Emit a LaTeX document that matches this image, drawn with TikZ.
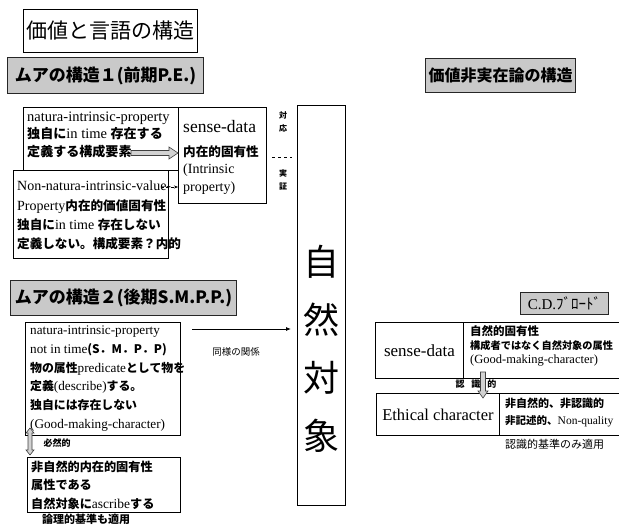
\documentclass[tikz,border=0pt]{standalone}
\usepackage{fontspec}
\setmainfont{Liberation Serif}
\newfontfamily\jpfont{Noto Sans CJK JP}
\newfontfamily\jpsm{Noto Sans CJK JP}[Scale=0.9]
\usetikzlibrary{arrows.meta}
\newcommand\jb[1]{{\jpsm\bfseries #1}}
\newcommand\jr[1]{{\jpfont #1}}
\newcommand\fsz[2]{\fontsize{#1}{#2}\selectfont}
\begin{document}
\begin{tikzpicture}[x=1pt,y=-1pt,
  frame/.style={draw, line width=0.9pt, fill=white, inner sep=0pt, anchor=north west},
  head/.style={draw=black!85, line width=1.1pt, fill=gray!42, inner sep=0pt, anchor=north west},
  txt/.style={inner sep=0pt, anchor=north west, align=left},
  grayarrow/.style={draw=gray!50!black, fill=gray!35, line width=0.6pt, line join=miter},
]
\useasboundingbox (0,0) rectangle (619,530);

% titles
\node[frame, minimum width=174pt, minimum height=43pt, font=\jpfont\fsz{21}{24}] (title) at (23,9) {価値と言語の構造};
\node[head, minimum width=196pt, minimum height=36pt, font=\jpfont\bfseries\fsz{17}{20}] (h1) at (7,57) {ムアの構造１(前期P.E.)};
\node[head, minimum width=150pt, minimum height=34pt, font=\jpfont\bfseries\fsz{16}{20}] (h3) at (425,58) {価値非実在論の構造};

% box A
\node[frame, minimum width=155pt, minimum height=63pt] (bA) at (23,107) {};
\node[txt, font=\fsz{14.5}{17.5}] (tA) at (27,111.5) {natura-intrinsic-property\\\jb{独自に}in time \jb{存在する}\\\jb{定義する構成要素}};
% sense-data (left)
\node[frame, minimum width=88pt, minimum height=96pt] (sd) at (178,107) {};
\node[txt, font=\fsz{17.5}{20}] (sdt) at (183,120) {sense-data};
\node[txt, font=\fsz{14}{17.5}] (sdt2) at (183,145.5) {\jb{内在的固有性}\\(Intrinsic\\property)};
% box B
\node[frame, minimum width=155pt, minimum height=88pt] (bB) at (13,170) {};
\node[txt, font=\fsz{14}{19.3}] (tB) at (17,181) {Non-natura-intrinsic-value-\\Property\jb{内在的価値固有性}\\\jb{独自に}in time \jb{存在しない}\\\jb{定義しない。構成要素？内的}};

% arrows into sense-data
\coordinate (gaS) at (131,153);
\draw[grayarrow] (131,150.5) -- (169,150.5) -- (169,147) -- (sd.west |- gaS) -- (169,159) -- (169,155.5) -- (131,155.5) -- cycle;
\coordinate (bBo) at (161,187);
\draw[densely dashed, -{Stealth[length=4pt,width=3pt]}] (bBo) -- (sd.west |- bBo);

% small vertical labels
\node[font=\jpfont\bfseries\fsz{8}{13}, align=center, inner sep=0pt] (lab1) at (283,122) {対\\応};
\coordinate (dl1) at (272,157);
\coordinate (dl2) at (292,157);
\draw[dashed] (dl1) -- (dl2);
\node[font=\jpfont\bfseries\fsz{8}{13}, align=center, inner sep=0pt] (lab2) at (283,180) {実\\証};

% natural object
\node[frame, minimum width=48pt, minimum height=400pt] (nat) at (297,105) {};
\node[font=\jpfont\fsz{36}{58}, align=center, inner sep=0pt] (natt) at (321,349) {自\\然\\対\\象};

% heading 2
\node[head, minimum width=226pt, minimum height=35pt, font=\jpfont\bfseries\fsz{17}{20}] (h2) at (10,280) {ムアの構造２(後期S.M.P.P.)};

% box C
\node[frame, minimum width=155pt, minimum height=113pt] (bC) at (25,322) {};
\node[txt, font=\fsz{13.2}{18.8}] (tC) at (30,325.5) {natura-intrinsic-property\\not in time\jb{(S．M．P．P)}\\\jb{物の属性}predicate\jb{として物を}\\\jb{定義}(describe)\jb{する。}\\\jb{独自には存在しない}\\(Good-making-character)};

\coordinate (aS) at (192,329);
\draw[line width=0.8pt, -{Latex[length=5pt,width=4pt]}, shorten >=6pt] (aS) -- (nat.west |- aS);
\node[font=\jpfont\fsz{9.5}{12}] (same) at (236,352) {同様の関係};

% necessity double arrow
\coordinate (daT) at (30,428);
\coordinate (daB) at (30,455);
\draw[grayarrow] (daT) -- (34,433) -- (32,433) -- (32,450) -- (34,450) -- (daB) -- (26,450) -- (28,450) -- (28,433) -- (26,433) -- cycle;
\node[font=\jpfont\bfseries\fsz{9}{10}] (nec) at (57,443) {必然的};

% box D
\node[frame, minimum width=153pt, minimum height=55pt] (bD) at (27,457) {};
\node[txt, font=\fsz{13.5}{18.6}] (tD) at (31,460.5) {\jb{非自然的内在的固有性}\\\jb{属性である}\\\jb{自然対象に}ascribe\jb{する}};
\node[font=\jpfont\bfseries\fsz{11}{12}, inner sep=0pt] (logi) at (86,519) {論理的基準も適用};

% right side
\node[head, minimum width=88pt, minimum height=22pt, font=\fsz{15}{16}] (cd) at (520,292) {C.D.\jr{ﾌﾞﾛｰﾄﾞ}};
\node[frame, minimum width=88pt, minimum height=56pt, font=\fsz{17}{20}] (sd2) at (375,322) {sense-data};
\node[frame, minimum width=170pt, minimum height=56pt] (sd2r) at (463,322) {};
\node[txt, font=\fsz{12.5}{14}] (tsd2) at (470,325) {{\jpfont\bfseries\fsz{11.5}{14}自然的固有性}\\{\jpfont\bfseries\fsz{10.2}{14}構成者ではなく自然対象の属性}\\(Good-making-character)};
\node[frame, minimum width=123pt, minimum height=42pt, font=\fsz{16.5}{20}] (eth) at (376,393) {Ethical character};
\node[frame, minimum width=130pt, minimum height=42pt] (ethr) at (499,393) {};
\node[txt, font=\fsz{11.5}{17}] (teth) at (505,397.5) {{\jpfont\bfseries\fsz{11}{17}非自然的、非認識的}\\{\jpfont\bfseries\fsz{10.5}{17}非記述的、}Non-quality};
\node[font=\jpfont\fsz{11}{12}, anchor=west, inner sep=0pt] (cog) at (505,444) {認識的基準のみ適用};
\node[font=\jpfont\bfseries\fsz{9}{10}, inner sep=0pt] (cogl) at (476,384) {認\hspace{7pt}識\hspace{7pt}的};
\coordinate (g2S) at (483,372);
\coordinate (g2E) at (483,398);
\draw[grayarrow] (480.5,372) -- (485.5,372) -- (485.5,391) -- (488,391) -- (g2E) -- (478,391) -- (480.5,391) -- cycle;
\end{tikzpicture}
\end{document}
